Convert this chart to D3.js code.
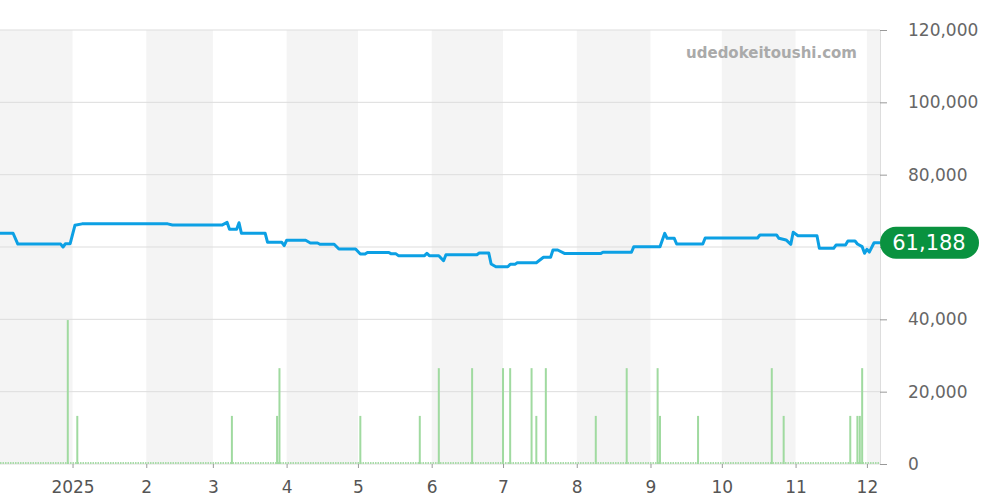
<!DOCTYPE html>
<html>
<head>
<meta charset="utf-8">
<script src="https://cdn.jsdelivr.net/npm/d3@7"></script>
<style>
  body { margin: 0; background: #fff; }
  svg { display: block; font-family: "DejaVu Sans", sans-serif; }
</style>
</head>
<body>
<svg width="1000" height="500"></svg>
<script>
// price line: [date, value]
var priceDates = ["2024-12-01","2024-12-07","2024-12-09","2024-12-27","2024-12-28","2024-12-29","2024-12-31",
  "2025-01-02","2025-01-05","2025-02-10","2025-02-12","2025-03-05","2025-03-07","2025-03-08","2025-03-11",
  "2025-03-12","2025-03-13","2025-03-23","2025-03-24","2025-03-30","2025-03-31","2025-04-01","2025-04-09",
  "2025-04-11","2025-04-14","2025-04-15","2025-04-21","2025-04-23","2025-04-30","2025-05-02","2025-05-04",
  "2025-05-05","2025-05-14","2025-05-15","2025-05-17","2025-05-18","2025-05-29","2025-05-30","2025-05-31",
  "2025-06-04","2025-06-06","2025-06-07","2025-06-20","2025-06-21","2025-06-25","2025-06-26","2025-06-28",
  "2025-07-03","2025-07-04","2025-07-06","2025-07-07","2025-07-15","2025-07-18","2025-07-21","2025-07-22",
  "2025-07-24","2025-07-27","2025-08-11","2025-08-12","2025-08-24","2025-08-25","2025-09-05","2025-09-07",
  "2025-09-08","2025-09-11","2025-09-12","2025-09-23","2025-09-24","2025-10-16","2025-10-17","2025-10-24",
  "2025-10-25","2025-10-28","2025-10-30","2025-10-31","2025-11-02","2025-11-10","2025-11-11","2025-11-17",
  "2025-11-18","2025-11-22","2025-11-23","2025-11-26","2025-11-27","2025-11-29","2025-11-30","2025-12-01",
  "2025-12-02","2025-12-04","2025-12-08"];
var priceValues = [63800,63800,60800,60800,60000,60900,60900,
  66000,66400,66400,66100,66100,66800,64900,64900,
  66700,63800,63800,61300,61300,60400,61850,61850,
  61100,61100,60750,60750,59450,59450,58070,58070,
  58500,58500,58100,58100,57600,57600,58260,57600,
  57600,56200,57870,57870,58340,58340,55300,54550,
  54550,55200,55200,55660,55660,57150,57150,59170,
  59170,58170,58170,58540,58540,60085,60085,63790,
  62400,62400,60830,60830,62490,62490,63320,63320,
  62400,61940,60750,64060,63130,63130,59640,59640,
  60550,60550,61660,61660,60830,60100,58260,59350,
  58600,61188,61188];

// volume bars
var barDates = ["2024-12-30","2025-01-03","2025-03-09","2025-03-28","2025-03-29","2025-05-02","2025-05-27",
  "2025-06-04","2025-06-18","2025-07-01","2025-07-04","2025-07-13","2025-07-15","2025-07-19","2025-08-09",
  "2025-08-22","2025-09-04","2025-09-05","2025-09-21","2025-10-22","2025-10-27","2025-11-24","2025-11-27",
  "2025-11-28","2025-11-29"];
var barValues = [39800,13300,13300,13300,26500,13300,13300,
  26500,26500,26500,26500,26500,13300,26500,13300,
  26500,26500,13300,13300,26500,13300,13300,13300,
  13300,26500];

var yTicks = [0, 20000, 40000, 60000, 80000, 100000, 120000];
var lastValue = 61188;

var svg = d3.select("svg");
var plotL = 0, plotR = 880, plotT = 30, plotB = 464;
var parse = d3.timeParse("%Y-%m-%d");

var x = d3.scaleTime()
  .domain([new Date(2024, 11, 1, 12), new Date(2025, 11, 6, 12)])
  .range([plotL, plotR]);
var y = d3.scaleLinear().domain([0, 120000]).range([plotB, plotT]);

svg.append("defs").append("clipPath").attr("id", "plot")
  .append("rect").attr("x", plotL).attr("y", plotT)
  .attr("width", plotR - plotL).attr("height", plotB - plotT);

// alternating month bands
var months = d3.timeMonth.range(new Date(2024, 11, 1), new Date(2026, 0, 1));
svg.append("g").attr("clip-path", "url(#plot)")
  .selectAll("rect").data(months.filter(function (d, i) { return i % 2 === 0; }))
  .enter().append("rect")
  .attr("x", function (d) { return x(d); })
  .attr("y", plotT)
  .attr("width", function (d) { return x(d3.timeMonth.offset(d, 1)) - x(d); })
  .attr("height", plotB - plotT)
  .attr("fill", "#f4f4f4");

// grid
svg.append("g").selectAll("line").data(yTicks).enter().append("line")
  .attr("x1", plotL).attr("x2", plotR)
  .attr("y1", function (d) { return y(d); })
  .attr("y2", function (d) { return y(d); })
  .attr("stroke", "#dddddd").attr("stroke-width", 1);

// watermark
svg.append("text").attr("x", 857).attr("y", 58)
  .attr("text-anchor", "end")
  .attr("font-size", 15).attr("font-weight", "bold")
  .attr("fill", "#aaaaaa")
  .text("udedokeitoushi.com");

// baseline dots + bars
svg.append("line").attr("x1", plotL).attr("x2", plotR)
  .attr("y1", plotB - 1).attr("y2", plotB - 1)
  .attr("stroke", "#a8dca8").attr("stroke-width", 2)
  .attr("stroke-dasharray", "1.5,1");

svg.append("g").attr("clip-path", "url(#plot)")
  .selectAll("rect").data(barDates).enter().append("rect")
  .attr("x", function (d) { return x(parse(d)) - 1; })
  .attr("width", 2)
  .attr("y", function (d, i) { return y(barValues[i]); })
  .attr("height", function (d, i) { return plotB - y(barValues[i]); })
  .attr("fill", "#a0daa0");

// price line
var line = d3.line()
  .x(function (d, i) { return x(parse(d)); })
  .y(function (d, i) { return y(priceValues[i]); });

svg.append("path").attr("clip-path", "url(#plot)")
  .attr("d", line(priceDates))
  .attr("fill", "none")
  .attr("stroke", "#0ca0e4")
  .attr("stroke-width", 3)
  .attr("stroke-linejoin", "round");

// right axis (60,000 label sits under the last-value pill)
var yAxis = svg.append("g")
  .attr("transform", "translate(" + plotR + ",0)")
  .call(d3.axisRight(y).tickValues(yTicks).tickSize(7).tickPadding(21)
    .tickFormat(function (d) { return d === 60000 ? "" : d3.format(",")(d); }));
yAxis.select(".domain").attr("stroke", "#dddddd");
yAxis.selectAll(".tick line").attr("stroke", "#999999");
yAxis.selectAll("text").attr("font-size", 17).attr("fill", "#666666")
  .attr("font-family", "DejaVu Sans");

// bottom axis
var xAxis = svg.append("g")
  .attr("transform", "translate(0," + plotB + ")")
  .call(d3.axisBottom(x).ticks(d3.timeMonth.every(1)).tickSize(4).tickPadding(13)
    .tickFormat(function (d) {
      return d.getMonth() === 0 ? String(d.getFullYear()) : String(d.getMonth() + 1);
    }));
xAxis.select(".domain").remove();
xAxis.selectAll(".tick line").attr("stroke", "#999999");
xAxis.selectAll("text").attr("font-size", 17).attr("fill", "#555555")
  .attr("font-family", "DejaVu Sans");

// last value label
var ly = y(lastValue);
svg.append("rect").attr("x", 880).attr("y", ly - 16)
  .attr("width", 99).attr("height", 32).attr("rx", 16)
  .attr("fill", "#09923f");
svg.append("text").attr("x", 929).attr("y", ly)
  .attr("dy", "0.36em").attr("text-anchor", "middle")
  .attr("font-size", 21).attr("fill", "#ffffff")
  .text(d3.format(",")(lastValue));
</script>
</body>
</html>
